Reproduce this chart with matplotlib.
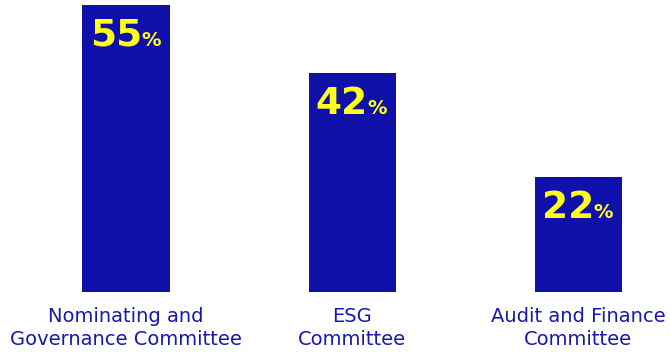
import matplotlib
matplotlib.use("Agg")
import matplotlib.pyplot as plt

categories = ["Nominating and\nGovernance Committee", "ESG\nCommittee", "Audit and Finance\nCommittee"]
values = [55, 42, 22]

BAR = "#1010AA"
TXT = "#1818AE"
YEL = "#FFFF1A"

fig = plt.figure(figsize=(6.7, 3.54), dpi=100)
ax = fig.add_axes([0, 62/354, 1, 292/354])
x = list(range(len(values)))
ax.bar(x, values, width=87/226, color=BAR)
ax.set_xlim(-126/226, (670-126)/226)
ax.set_ylim(0, 55 + 4.7/5.15)
for s in ax.spines.values():
    s.set_visible(False)
ax.set_yticks([])
ax.set_xticks(x)
ax.set_xticklabels(categories, fontsize=14, color=TXT, fontfamily="DejaVu Sans", linespacing=1.25)
ax.tick_params(axis="x", length=0, pad=11)

for i, v in zip(x, values):
    ax.annotate(f"{v}", xy=(i, v), xytext=(11.5, -29.5), textcoords="offset points",
                ha="right", va="baseline", color=YEL, fontsize=27,
                fontweight="bold", fontfamily="DejaVu Sans")
    ax.annotate("%", xy=(i, v), xytext=(11, -29.5), textcoords="offset points",
                ha="left", va="baseline", color=YEL, fontsize=14,
                fontweight="bold", fontfamily="DejaVu Sans")

fig.savefig("out.png", dpi=100)
